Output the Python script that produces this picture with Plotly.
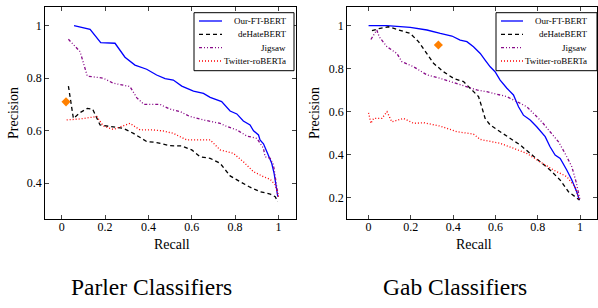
import plotly.graph_objects as go

# ---------------- data: Parler ----------------
parler_ours_r = [0.057,0.131,0.18,0.246,0.292,0.338,0.392,0.438,0.477,0.515,0.554,0.608,0.654,0.685,0.738,0.777,0.808,0.838,0.869,0.885,0.908,0.915,0.931,0.946,0.962,0.969,0.98,0.989,0.997]
parler_ours_p = [1.0,0.986,0.935,0.933,0.88,0.85,0.834,0.812,0.798,0.793,0.77,0.751,0.742,0.727,0.711,0.675,0.664,0.637,0.622,0.6,0.584,0.565,0.55,0.52,0.493,0.476,0.438,0.387,0.349]
parler_dehate_r = [0.031,0.054,0.085,0.118,0.143,0.177,0.223,0.285,0.331,0.392,0.438,0.5,0.554,0.6,0.638,0.685,0.731,0.777,0.823,0.869,0.915,0.962,0.985,0.997]
parler_dehate_p = [0.77,0.647,0.669,0.685,0.682,0.622,0.616,0.609,0.59,0.559,0.555,0.543,0.542,0.527,0.501,0.495,0.476,0.428,0.406,0.385,0.368,0.359,0.349,0.33]
parler_jigsaw_r = [0.031,0.085,0.118,0.192,0.238,0.315,0.346,0.38,0.454,0.5,0.546,0.592,0.654,0.731,0.762,0.808,0.854,0.9,0.931,0.938,0.962,0.977,0.992,1.0]
parler_jigsaw_p = [0.948,0.901,0.808,0.8,0.781,0.768,0.726,0.7,0.7,0.682,0.673,0.654,0.641,0.628,0.616,0.603,0.58,0.571,0.533,0.501,0.495,0.47,0.387,0.349]
parler_twitter_r = [0.023,0.085,0.162,0.192,0.238,0.277,0.315,0.362,0.423,0.469,0.515,0.577,0.685,0.731,0.792,0.838,0.885,0.931,0.962,0.985,1.0]
parler_twitter_p = [0.641,0.645,0.654,0.618,0.605,0.616,0.628,0.603,0.603,0.599,0.59,0.565,0.565,0.527,0.514,0.482,0.444,0.425,0.415,0.394,0.349]
parler_point_r = [0.02]
parler_point_p = [0.71]

# ---------------- data: Gab ----------------
gab_ours_r = [0.0,0.087,0.197,0.276,0.339,0.394,0.433,0.465,0.496,0.528,0.551,0.575,0.598,0.622,0.654,0.685,0.709,0.732,0.764,0.795,0.835,0.858,0.882,0.906,0.937,0.961,0.984,0.997]
gab_ours_p = [1.0,1.0,0.992,0.98,0.964,0.952,0.933,0.926,0.902,0.871,0.84,0.809,0.786,0.747,0.709,0.678,0.623,0.584,0.561,0.53,0.484,0.437,0.398,0.383,0.329,0.282,0.228,0.189]
gab_dehate_r = [0.016,0.055,0.094,0.15,0.197,0.236,0.276,0.307,0.354,0.402,0.449,0.48,0.52,0.535,0.551,0.575,0.622,0.669,0.717,0.764,0.811,0.858,0.906,0.945,0.976,0.997]
gab_dehate_p = [0.977,0.988,0.995,0.98,0.964,0.926,0.871,0.825,0.786,0.755,0.74,0.709,0.67,0.623,0.569,0.538,0.507,0.476,0.445,0.406,0.367,0.329,0.282,0.228,0.205,0.189]
gab_jigsaw_r = [0.011,0.024,0.039,0.05,0.087,0.134,0.157,0.213,0.276,0.339,0.402,0.465,0.512,0.559,0.606,0.654,0.701,0.748,0.78,0.819,0.858,0.898,0.929,0.961,0.981,0.992,1.0]
gab_jigsaw_p = [0.936,0.957,0.98,0.949,0.902,0.871,0.833,0.809,0.771,0.755,0.735,0.713,0.701,0.693,0.682,0.67,0.647,0.623,0.592,0.553,0.507,0.46,0.406,0.344,0.274,0.22,0.189]
gab_twitter_r = [0.0,0.011,0.024,0.063,0.087,0.11,0.165,0.213,0.26,0.339,0.417,0.496,0.528,0.622,0.685,0.748,0.811,0.874,0.937,0.976,0.997]
gab_twitter_p = [0.595,0.546,0.569,0.569,0.6,0.553,0.569,0.546,0.549,0.533,0.507,0.496,0.471,0.453,0.43,0.406,0.367,0.329,0.298,0.251,0.189]
gab_point_r = [0.33]
gab_point_p = [0.91]

series_names = ["Our-FT-BERT", "deHateBERT", "Jigsaw", "Twitter-roBERTa"]
x_ticks = [0, 0.2, 0.4, 0.6, 0.8, 1]
x_tick_text = ["0", "0.2", "0.4", "0.6", "0.8", "1"]
parler_y_ticks = [0.4, 0.6, 0.8, 1]
parler_y_text = ["0.4", "0.6", "0.8", "1"]
gab_y_ticks = [0.2, 0.4, 0.6, 0.8, 1]
gab_y_text = ["0.2", "0.4", "0.6", "0.8", "1"]
panel_titles = ["Parler Classifiers", "Gab Classifiers"]

# ---------------- styles ----------------
FONT = "Liberation Serif"
styles = [
    dict(color="#0000ff", dash="solid"),
    dict(color="#000000", dash="4px,3px"),
    dict(color="#880a88", dash="3px,2px,1px,2px,1px,2px"),
    dict(color="#ff0000", dash="1px,2px"),
]

W, H = 598, 308
def px_x(v): return v / W
def px_y(v): return 1 - v / H

fig = go.Figure()

panels = [
    dict(xa="x", ya="y",
         data=[(parler_ours_r, parler_ours_p), (parler_dehate_r, parler_dehate_p),
               (parler_jigsaw_r, parler_jigsaw_p), (parler_twitter_r, parler_twitter_p)],
         pt=(parler_point_r, parler_point_p)),
    dict(xa="x2", ya="y2",
         data=[(gab_ours_r, gab_ours_p), (gab_dehate_r, gab_dehate_p),
               (gab_jigsaw_r, gab_jigsaw_p), (gab_twitter_r, gab_twitter_p)],
         pt=(gab_point_r, gab_point_p)),
]

for p in panels:
    for (r, pr), st, nm in zip(p["data"], styles, series_names):
        fig.add_trace(go.Scatter(x=r, y=pr, mode="lines", name=nm, showlegend=False,
                                 xaxis=p["xa"], yaxis=p["ya"],
                                 line=dict(color=st["color"], dash=st["dash"], width=1.3)))
    fig.add_trace(go.Scatter(x=p["pt"][0], y=p["pt"][1], mode="markers", showlegend=False,
                             xaxis=p["xa"], yaxis=p["ya"],
                             marker=dict(symbol="diamond", size=7, color="#ff8000")))

axis_common = dict(showgrid=False, zeroline=False, showline=True, linecolor="black",
                   linewidth=0.8, mirror="ticks", ticks="inside", ticklen=4,
                   tickcolor="#444", tickwidth=0.8,
                   tickfont=dict(family=FONT, size=12, color="black"))

fig.update_layout(
    width=W, height=H, margin=dict(l=0, r=0, t=0, b=0),
    paper_bgcolor="white", plot_bgcolor="white", showlegend=False,
    font=dict(family=FONT),
    xaxis=dict(domain=[px_x(45), px_x(296)], range=[-0.077, 1.081], anchor="y",
               tickvals=x_ticks, ticktext=x_tick_text, ticklabelstandoff=-3, **axis_common),
    yaxis=dict(domain=[px_y(219), px_y(7)], range=[0.264, 1.071], anchor="x",
               tickvals=parler_y_ticks, ticktext=parler_y_text, **axis_common),
    xaxis2=dict(domain=[px_x(347), px_x(597)], range=[-0.102, 1.08], anchor="y2",
                tickvals=x_ticks, ticktext=x_tick_text, ticklabelstandoff=-3, **axis_common),
    yaxis2=dict(domain=[px_y(219), px_y(7)], range=[0.101, 1.087], anchor="x2",
                tickvals=gab_y_ticks, ticktext=gab_y_text, **axis_common),
)

annotations = []
shapes = []
for cx, pcx in [(172, 14), (474, 315)]:
    annotations.append(dict(x=px_x(cx), y=px_y(244), xref="paper", yref="paper", text="Recall",
                            showarrow=False, font=dict(family=FONT, size=14, color="black"),
                            xanchor="center", yanchor="middle"))
    annotations.append(dict(x=px_x(pcx), y=px_y(113), xref="paper", yref="paper", text="Precision",
                            showarrow=False, textangle=-90,
                            font=dict(family=FONT, size=14, color="black"),
                            xanchor="center", yanchor="middle"))

annotations.append(dict(x=px_x(151), y=px_y(287), xref="paper", yref="paper", text=panel_titles[0],
                        showarrow=False, font=dict(family=FONT, size=23.5, color="black"),
                        xanchor="center", yanchor="middle"))
annotations.append(dict(x=px_x(455), y=px_y(287), xref="paper", yref="paper", text=panel_titles[1],
                        showarrow=False, font=dict(family=FONT, size=23.5, color="black"),
                        xanchor="center", yanchor="middle"))

# manual legends (box, sample lines, labels)
row_y = [21, 34.3, 47.6, 61]
for (bx0, bx1, sx0, sx1, tx) in [(194, 294, 199, 222, 288), (496, 597, 501, 523, 589)]:
    shapes.append(dict(type="rect", xref="paper", yref="paper",
                       x0=px_x(bx0), x1=px_x(bx1), y0=px_y(70.7), y1=px_y(12.7),
                       line=dict(color="black", width=1), fillcolor="white", layer="above"))
    for ry, st, nm in zip(row_y, styles, series_names):
        shapes.append(dict(type="line", xref="paper", yref="paper",
                           x0=px_x(sx0), x1=px_x(sx1), y0=px_y(ry), y1=px_y(ry),
                           line=dict(color=st["color"], dash=st["dash"], width=1.3), layer="above"))
        annotations.append(dict(x=px_x(tx), y=px_y(ry), xref="paper", yref="paper", text=nm,
                                showarrow=False, font=dict(family=FONT, size=9, color="black"),
                                xanchor="right", yanchor="middle"))

fig.update_layout(annotations=annotations, shapes=shapes)
fig.write_html("out.html", config={"displayModeBar": False},
               post_script="document.body.style.margin='0';")
